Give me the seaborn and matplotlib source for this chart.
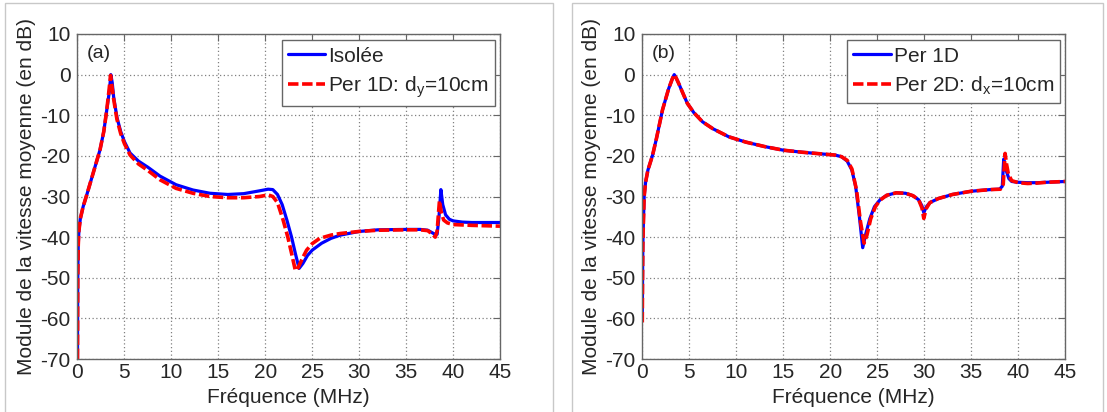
import numpy as np
import pandas as pd
import seaborn as sns
import matplotlib.pyplot as plt
from matplotlib.patches import Rectangle

# panel (a): isolated vs 1D periodic
fa_iso = [0, 0.03, 0.08, 0.15, 0.3, 0.6, 1.0, 1.7, 2.4, 2.8, 3.1, 3.4, 3.55, 3.7, 3.85,
          4.2, 4.6, 5.0, 5.6, 6.5, 7.5, 8.8, 10.5, 12.3, 14.1, 16.0, 17.7, 19.4, 20.3, 20.8,
          21.3, 21.8, 22.3, 22.8, 23.2, 23.6, 24.0, 24.5, 25.0, 26.0, 27.0, 28.0, 30.0, 32.0, 35.0,
          36.5, 37.3, 38.0, 38.3, 38.5, 38.7, 38.9, 39.2, 39.6, 40.0, 41.0, 42.0, 45.0]
va_iso = [-70, -50, -42, -38.5, -35.5, -32.5, -29.5, -24, -18.5, -14, -9, -4, 0, -2, -5.5,
          -10.5, -14, -16.5, -19.3, -21.3, -22.8, -25, -27.1, -28.4, -29.2, -29.5, -29.3, -28.6, -28.2, -28.3,
          -29.5, -32, -35.8, -40, -44, -47.7, -46.5, -44.5, -43.2, -41.5, -40.3, -39.5, -38.6, -38.2, -38.1,
          -38.1, -38.3, -39.2, -39.3, -35, -28.3, -32, -34.5, -35.6, -36.0, -36.3, -36.4, -36.4]

fa_per = [0, 0.03, 0.08, 0.15, 0.3, 0.6, 1.0, 1.7, 2.4, 2.8, 3.1, 3.35, 3.52, 3.65, 3.85,
          4.2, 4.6, 5.0, 5.6, 6.5, 7.5, 8.8, 10.5, 12.3, 14.1, 16.0, 17.7, 19.4, 20.3, 20.8,
          21.3, 21.9, 22.4, 22.8, 23.2, 23.5, 24.0, 24.4, 25.0, 25.8, 27.0, 28.0, 30.0, 32.0, 35.0,
          36.5, 37.3, 37.8, 38.1, 38.3, 38.55, 38.75, 39.0, 39.4, 40.0, 41.0, 42.0, 45.0]
va_per = [-70, -50, -42, -38.5, -35.5, -32.5, -29.5, -24, -18.5, -14, -9, -4, -0.2, -2.5, -6,
          -11, -14.5, -17, -19.8, -22, -23.6, -25.9, -28, -29.2, -30.0, -30.3, -30.3, -30.0, -29.6, -30.0,
          -31.5, -35.8, -40, -44, -48.2, -47.5, -45, -43.2, -41.6, -40.3, -39.5, -39.1, -38.6, -38.3, -38.2,
          -38.2, -38.4, -39.3, -40.0, -38.5, -31, -34, -35.8, -36.5, -36.9, -37.0, -37.1, -37.3]

# panel (b): 1D vs 2D periodic
fb_1d = [0, 0.03, 0.06, 0.1, 0.2, 0.35, 0.6, 1.1, 1.5, 2.15, 2.8, 3.2, 3.4, 3.6, 3.9,
         4.4, 4.8, 5.5, 6.4, 7.5, 9.2, 11, 13, 15, 17, 19, 20.5, 21.2, 21.8, 22.3,
         22.7, 23.1, 23.45, 23.8, 24.2, 24.7, 25.3, 26, 27, 28, 28.8, 29.4, 29.75, 29.95, 30.2,
         30.6, 31.5, 33, 35, 37, 38.0, 38.3, 38.45, 38.7, 39.0, 39.3, 40, 41, 42, 43, 45]
vb_1d = [-60, -50, -42, -38, -30, -26.5, -23.5, -19.8, -15.8, -8.7, -3.5, -1, 0, -0.8, -2.3,
         -5, -7.1, -9.4, -11.6, -13.3, -15.3, -16.6, -17.7, -18.6, -19.1, -19.5, -19.8, -20.2, -21.3, -23.5,
         -27.5, -35, -42.6, -39, -35.5, -32.5, -30.8, -29.7, -29.1, -29.2, -29.8, -30.8, -32.3, -34, -32.6,
         -31.5, -30.5, -29.5, -28.7, -28.3, -28.2, -27.5, -20.8, -23.5, -25.6, -26.3, -26.5, -26.6, -26.6, -26.5, -26.3]

fb_2d = [0, 0.03, 0.06, 0.1, 0.2, 0.35, 0.6, 1.1, 1.5, 2.15, 2.8, 3.2, 3.4, 3.6, 3.9,
         4.4, 4.8, 5.5, 6.4, 7.5, 9.2, 11, 13, 15, 17, 19, 20.5, 21.2, 21.8, 22.3,
         22.8, 23.2, 23.6, 23.9, 24.3, 24.8, 25.3, 26, 27, 28, 28.8, 29.4, 29.75, 29.95, 30.2,
         30.6, 31.5, 33, 35, 37, 38.1, 38.4, 38.6, 38.75, 38.95, 39.3, 40, 41, 42, 43, 45]
vb_2d = [-61, -50, -42, -38, -30, -26.5, -23.5, -19.8, -15.8, -8.7, -3.5, -1, 0, -0.8, -2.3,
         -5, -7.1, -9.4, -11.6, -13.3, -15.3, -16.6, -17.7, -18.6, -19.1, -19.5, -19.8, -20.2, -21.1, -23.2,
         -28.5, -36, -41.5, -39.5, -35.5, -32.5, -30.9, -29.7, -29.1, -29.2, -29.8, -30.8, -32.8, -35.4, -33,
         -31.5, -30.5, -29.5, -28.7, -28.3, -28.2, -27, -19.4, -22, -24.5, -26.1, -26.6, -26.8, -26.7, -26.5, -26.3]

xticks = [0, 5, 10, 15, 20, 25, 30, 35, 40, 45]
yticks = [10, 0, -10, -20, -30, -40, -50, -60, -70]

sns.set_style("white")
plt.rcParams['font.family'] = ['Liberation Sans', 'DejaVu Sans']
plt.rcParams['mathtext.fontset'] = 'custom'
plt.rcParams['mathtext.rm'] = 'Liberation Sans'
plt.rcParams['axes.unicode_minus'] = False

fig = plt.figure(figsize=(11.07, 4.12), dpi=100)

# light grey frames around each panel
fig.patches.append(Rectangle((0.0045, -0.1), 0.495, 1.093, transform=fig.transFigure,
                             fill=False, edgecolor='#c8c8c8', lw=1))
fig.patches.append(Rectangle((0.5167, -0.1), 0.4797, 1.093, transform=fig.transFigure,
                             fill=False, edgecolor='#c8c8c8', lw=1))

ax_a = fig.add_axes([0.0700, 0.1286, 0.3817, 0.7889])
ax_b = fig.add_axes([0.5802, 0.1286, 0.3821, 0.7889])

dash = (0, (2.9, 1.0))
fs = 15

panels = [
    (ax_a, fa_iso, va_iso, 'Isolée', fa_per, va_per, 'Per 1D: d$_\\mathregular{y}$=10cm', '(a)'),
    (ax_b, fb_1d, vb_1d, 'Per 1D', fb_2d, vb_2d, 'Per 2D: d$_\\mathregular{x}$=10cm', '(b)'),
]

for ax, f1, v1, lab1, f2, v2, lab2, tag in panels:
    sns.lineplot(x=f1, y=v1, ax=ax, color='#0000ff', lw=2.3, label=lab1,
                 sort=False, estimator=None)
    sns.lineplot(x=f2, y=v2, ax=ax, color='#ff0000', lw=2.6, linestyle=dash, label=lab2,
                 sort=False, estimator=None)
    ax.set_xlim(0, 45)
    ax.set_ylim(-70, 10)
    ax.set_xticks(xticks)
    ax.set_yticks(yticks)
    ax.grid(True, linestyle=(0, (1, 2)), color='#808080', lw=0.9)
    for s in ax.spines.values():
        s.set_color('#666666')
        s.set_linewidth(1)
    ax.tick_params(direction='in', length=5, color='#666666', labelsize=fs,
                   top=True, right=True)
    ax.tick_params(axis='x', pad=3)
    ax.tick_params(axis='y', pad=5)
    ax.set_xlabel('Fréquence (MHz)', fontsize=fs, labelpad=4)
    ax.set_ylabel('Module de la vitesse moyenne (en dB)', fontsize=fs, labelpad=3)
    ax.text(0.022, 0.94, tag, transform=ax.transAxes, fontsize=14, va='center', ha='left')
    leg = ax.legend(loc='upper right', bbox_to_anchor=(0.988, 0.98), fontsize=fs,
                    fancybox=False, framealpha=1, edgecolor='#666666',
                    handlelength=1.8, handletextpad=0.15, labelspacing=0.4,
                    borderpad=0.3, borderaxespad=0)
    leg.get_frame().set_linewidth(1)

fig.savefig('out.png', dpi=100)
